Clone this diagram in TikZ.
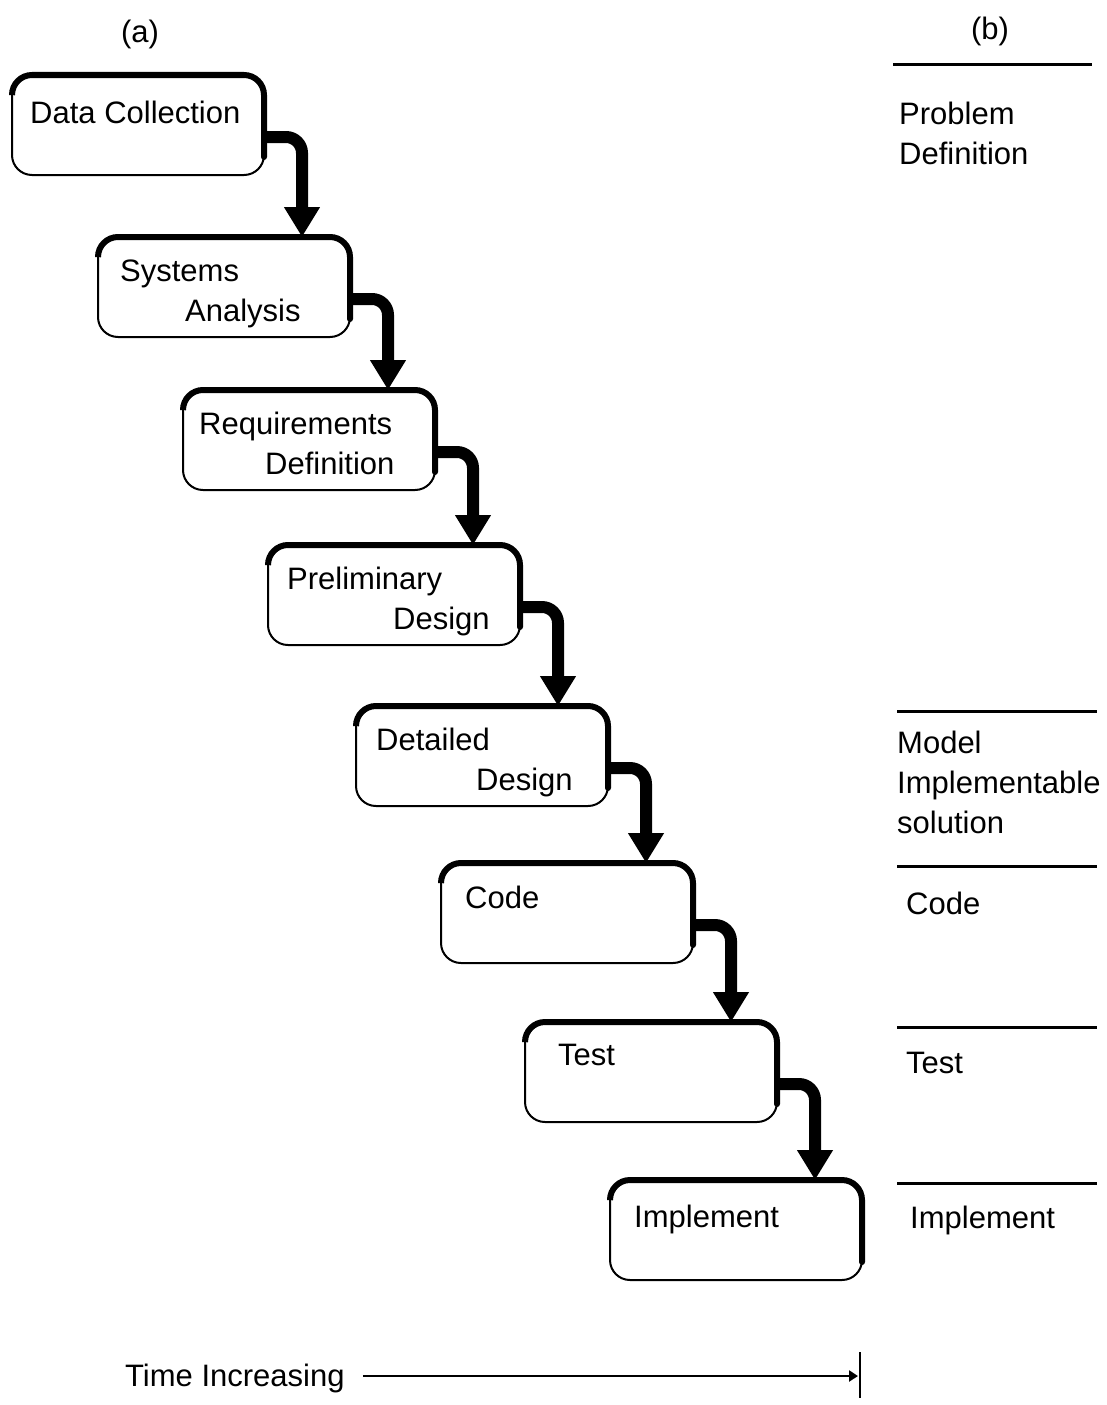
\documentclass[tikz,border=0pt]{standalone}
\usepackage{fontspec}
\setmainfont{Liberation Sans}
\usetikzlibrary{arrows.meta,calc}
\tikzset{
  stage/.style={draw, line width=2pt, rounded corners=20pt, minimum width=252pt,
    minimum height=100pt, anchor=north west, inner sep=0pt, outer sep=0pt},
  edgethick/.style={line width=6pt, rounded corners=20pt, line cap=round},
  flow/.style={line width=12pt, rounded corners=16pt, -{Triangle[width=34pt,length=30pt]}},
  lbl/.style={anchor=base west, inner sep=0pt, font=\fontsize{31}{36}\selectfont},
  rule/.style={line width=3pt},
}
\begin{document}
\begin{tikzpicture}[x=1pt,y=-1pt]
\useasboundingbox (0,0) rectangle (1107,1405);
% boxes
\node[stage] (n1) at (12,75) {};
\node[stage] (n2) at (98,237) {};
\node[stage] (n3) at (183,390) {};
\node[stage] (n4) at (268,545) {};
\node[stage] (n5) at (356,706) {};
\node[stage] (n6) at (441,863) {};
\node[stage] (n7) at (525,1022) {};
\node[stage] (n8) at (610,1180) {};
\foreach \n in {n1,n2,n3,n4,n5,n6,n7,n8}{
  \draw[edgethick] ([yshift=-18pt]\n.north west) -- (\n.north west) -- (\n.north east) -- ([yshift=18pt]\n.south east);
}
% labels in boxes
\node[lbl] (t1) at ($(n1.north west)+(18,48)$) {Data Collection};
\node[lbl] (t2a) at ($(n2.north west)+(22,44)$) {Systems};
\node[lbl] (t2b) at ($(n2.north west)+(87,84)$) {Analysis};
\node[lbl] (t3a) at ($(n3.north west)+(16,44)$) {Requirements};
\node[lbl] (t3b) at ($(n3.north west)+(82,84)$) {Definition};
\node[lbl] (t4a) at ($(n4.north west)+(19,44)$) {Preliminary};
\node[lbl] (t4b) at ($(n4.north west)+(125,84)$) {Design};
\node[lbl] (t5a) at ($(n5.north west)+(20,44)$) {Detailed};
\node[lbl] (t5b) at ($(n5.north west)+(120,84)$) {Design};
\node[lbl] (t6) at ($(n6.north west)+(24,45)$) {Code};
\node[lbl] (t7) at ($(n7.north west)+(33,43)$) {Test};
\node[lbl] (t8) at ($(n8.north west)+(24,47)$) {Implement};
% flow arrows
\foreach \a/\b in {n1/n2,n2/n3,n3/n4,n4/n5,n5/n6,n6/n7,n7/n8}{
  \draw[flow] ($(\a.north east)+(0,62)$) -| ($(\a.north east |- \b.north)+(38,0)$);
}
% headings
\node[lbl, anchor=base] (ha) at (140,43) {(a)};
\node[lbl, anchor=base] (hb) at (990,40) {(b)};
% column b
\coordinate (r1a) at (893,65); \coordinate (r1b) at (1092,65);
\coordinate (r2a) at (897,711); \coordinate (r2b) at (1097,711);
\coordinate (r3a) at (897,866); \coordinate (r3b) at (1097,866);
\coordinate (r4a) at (897,1027); \coordinate (r4b) at (1097,1027);
\coordinate (r5a) at (897,1183); \coordinate (r5b) at (1097,1183);
\draw[rule] (r1a) -- (r1b);
\draw[rule] (r2a) -- (r2b);
\draw[rule] (r3a) -- (r3b);
\draw[rule] (r4a) -- (r4b);
\draw[rule] (r5a) -- (r5b);
\node[lbl] (b1a) at (899,124) {Problem};
\node[lbl] (b1b) at (899,164) {Definition};
\node[lbl] (b2a) at (897,753) {Model};
\node[lbl] (b2b) at (897,793) {Implementable};
\node[lbl] (b2c) at (897,833) {solution};
\node[lbl] (b3) at (906,914) {Code};
\node[lbl] (b4) at (906,1073) {Test};
\node[lbl] (b5) at (910,1228) {Implement};
% time axis
\node[lbl] (time) at (125,1386) {Time Increasing};
\coordinate (tend) at (858,1376);
\coordinate (ttop) at (860,1352);
\coordinate (tbot) at (860,1398);
\draw[line width=2.5pt, -{Triangle[width=11pt,length=9pt]}] ($(time.east |- tend)+(18,0)$) -- (tend);
\draw[line width=2pt] (ttop) -- (tbot);
\end{tikzpicture}
\end{document}
